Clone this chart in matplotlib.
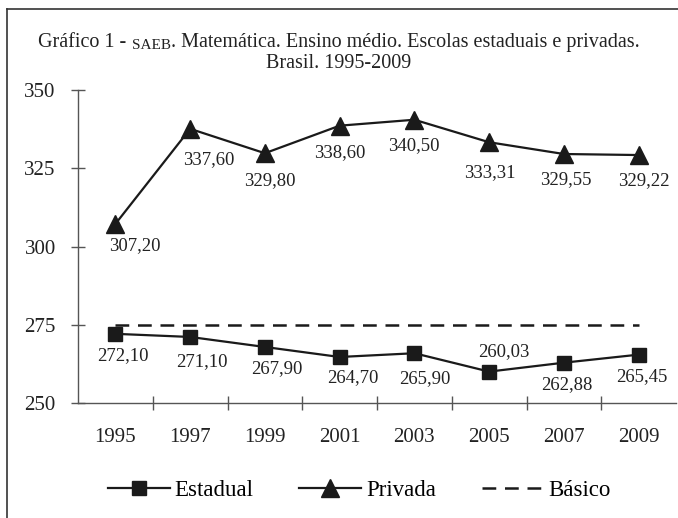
import numpy as np
import matplotlib
matplotlib.use("Agg")
import matplotlib.pyplot as plt
from matplotlib.lines import Line2D

plt.rcParams["font.family"] = ["Liberation Serif", "DejaVu Serif"]

years = ["1995", "1997", "1999", "2001", "2003", "2005", "2007", "2009"]
estadual = [272.10, 271.10, 267.90, 264.70, 265.90, 260.03, 262.88, 265.45]
privada = [307.20, 337.60, 329.80, 338.60, 340.50, 333.31, 329.55, 329.22]
basico = [275, 275, 275, 275, 275, 275, 275, 275]
yticks = [250, 275, 300, 325, 350]

# label offsets in pixels (dx, dy down)
off_priv = [(19, 22), (19, 31), (5, 27), (0, 27), (-1, 26), (1, 30), (2, 26), (5, 26)]
off_est = [(7, 22), (12, 25), (12, 22), (13, 21), (10, 25), (15, -20), (3, 22), (3, 22)]

def fmt(v):
    return f"{v:.2f}".replace(".", ",")

fig = plt.figure(figsize=(6.78, 5.18), dpi=100)
ax = fig.add_axes([78 / 678, 1 - 403 / 518, 598 / 678, 313 / 518])

x = np.arange(len(years))
ink = "#1a1a1a"
txt = "#222222"
ax.plot(x, estadual, color=ink, lw=1.6, marker="s", ms=10.5, label="Estadual", zorder=3)
ax.plot(x, privada, color=ink, lw=1.6, marker="^", ms=13, label="Privada", zorder=3)
ax.plot(x, basico, color=ink, lw=1.8, ls=(0, (5.5, 3.5)), label="Básico", zorder=2)

for i, v in enumerate(privada):
    dx, dy = off_priv[i]
    ax.annotate(fmt(v), (x[i], v), xytext=(dx * 0.72, -dy * 0.72), textcoords="offset points",
                ha="center", va="center", fontsize=13.5, color=txt)
for i, v in enumerate(estadual):
    dx, dy = off_est[i]
    ax.annotate(fmt(v), (x[i], v), xytext=(dx * 0.72, -dy * 0.72), textcoords="offset points",
                ha="center", va="center", fontsize=13.5, color=txt)

ax.set_xlim(-0.5, len(years) - 0.5)
ax.set_ylim(250, 350)
ax.set_yticks(yticks)
ax.set_xticks(x[:-1] + 0.5)
ax.set_xticklabels([])
ax.set_xticks(x, minor=True)
ax.set_xticklabels(years, minor=True)
axcol = "#555555"
ax.tick_params(axis="y", direction="inout", length=10, width=1, color=axcol, labelsize=15, pad=11, labelcolor=txt)
ax.tick_params(axis="x", which="major", direction="inout", length=10, width=1, color=axcol)
ax.tick_params(axis="x", which="minor", length=0, labelsize=15, pad=18, labelcolor=txt)
for s in ["top", "right"]:
    ax.spines[s].set_visible(False)
for s in ["left", "bottom"]:
    ax.spines[s].set_color(axcol)
    ax.spines[s].set_linewidth(1)

fig.legend(loc="center", bbox_to_anchor=(0.53, 1 - 490 / 518), ncol=3, frameon=False,
           fontsize=16.5, handlelength=2.7, handletextpad=0.2, columnspacing=2.0)

# title with small caps SAEB
ty = 1 - 42 / 518
t1 = fig.text(0.05, ty, "Gráfico 1 - ", fontsize=14.5, va="center", ha="left", color=txt)
t2 = ax.annotate("SAEB", xy=(1, 0), xycoords=t1, va="bottom", ha="left", fontsize=11, color=txt,
                 annotation_clip=False)
t3 = ax.annotate(". Matemática. Ensino médio. Escolas estaduais e privadas.", xy=(1, 0), xycoords=t2,
                 va="bottom", ha="left", fontsize=14.5, color=txt, annotation_clip=False)
fig.text(0.5, 1 - 64 / 518, "Brasil. 1995-2009", fontsize=14.5, va="center", ha="center", color=txt)

fig.canvas.draw()
r = fig.canvas.get_renderer()
w = t3.get_window_extent(r).x1 - t1.get_window_extent(r).x0
t1.set_x((678 - w) / 2 / 678)

# frame
fig.add_artist(Line2D([7 / 678, 1], [1 - 9 / 518] * 2, transform=fig.transFigure, color="#333", lw=1.2))
fig.add_artist(Line2D([7 / 678] * 2, [0, 1 - 9 / 518], transform=fig.transFigure, color="#333", lw=1.2))

fig.savefig("out.png", dpi=100)
